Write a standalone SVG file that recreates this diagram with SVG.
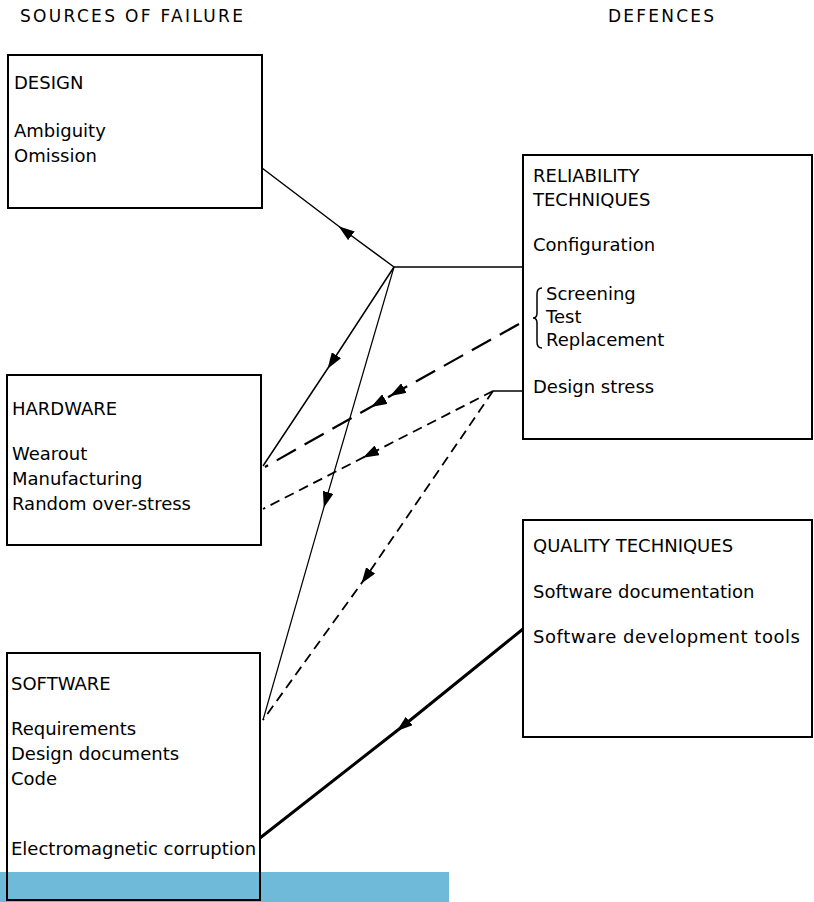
<svg xmlns="http://www.w3.org/2000/svg" width="814" height="902" viewBox="0 0 814 902">
<style>
text{font-family:"DejaVu Sans","Liberation Sans",sans-serif;font-size:18px;fill:#000}
.hd{font-size:17px}
.box{fill:none;stroke:#000;stroke-width:2}
.ln{fill:none;stroke:#000;stroke-width:1.5}
.thin{fill:none;stroke:#000;stroke-width:1.2}
.thick{fill:none;stroke:#000;stroke-width:3}
.ld{fill:none;stroke:#000;stroke-width:2.2;stroke-dasharray:22 10}
.sd{fill:none;stroke:#000;stroke-width:1.8;stroke-dasharray:10 6}
</style>
<defs>
<marker id="ah" viewBox="0 0 16 11" refX="8" refY="5.5" markerWidth="16" markerHeight="11" markerUnits="userSpaceOnUse" orient="auto">
<path d="M0,0 L16,5.5 L0,11 Z" fill="#000"/>
</marker>
</defs>
<rect x="0" y="872" width="449" height="30" fill="#6fb9d9"/>
<text class="hd" x="20" y="22" textLength="223">SOURCES OF FAILURE</text>
<text class="hd" x="608" y="22" textLength="106">DEFENCES</text>
<g id="design">
<rect class="box" x="8" y="55" width="254" height="153"/>
<text x="14" y="89">DESIGN</text>
<text x="14" y="137">Ambiguity</text>
<text x="14" y="162">Omission</text>
</g>
<g id="hardware">
<rect class="box" x="7" y="375" width="254" height="170"/>
<text x="12" y="415">HARDWARE</text>
<text x="12" y="460">Wearout</text>
<text x="12" y="485">Manufacturing</text>
<text x="12" y="510">Random over-stress</text>
</g>
<g id="software">
<rect class="box" x="7" y="653" width="253" height="247"/>
<text x="11" y="690">SOFTWARE</text>
<text x="11" y="735">Requirements</text>
<text x="11" y="760">Design documents</text>
<text x="11" y="785">Code</text>
<text x="11" y="855">Electromagnetic corruption</text>
</g>
<g id="reliability">
<rect class="box" x="523" y="155" width="289" height="284"/>
<text x="533" y="182">RELIABILITY</text>
<text x="533" y="206">TECHNIQUES</text>
<text x="533" y="251">Configuration</text>
<path class="ln" d="M542,288 Q537,288 537,294 L537,313 Q537,318 533,318 Q537,318 537,323 L537,342 Q537,348 542,348"/>
<text x="546" y="300">Screening</text>
<text x="546" y="323">Test</text>
<text x="546" y="346">Replacement</text>
<text x="533" y="393">Design stress</text>
</g>
<g id="quality">
<rect class="box" x="523" y="520" width="289" height="217"/>
<text x="533" y="552">QUALITY TECHNIQUES</text>
<text x="533" y="598">Software documentation</text>
<text x="533" y="643" textLength="267">Software development tools</text>
</g>
<g id="connectors">
<path class="ln" d="M523,267 L394,267"/>
<path class="ln" d="M394,267 L345,231 L262,168" marker-mid="url(#ah)"/>
<path class="ln" d="M394,267 L332,362 L263,466" marker-mid="url(#ah)"/>
<path class="thin" d="M394,267 L326,500 L263,720" marker-mid="url(#ah)"/>
<path class="ld" d="M519,324 L397,392 L378,403 L265,467" marker-mid="url(#ah)"/>
<path class="ln" d="M523,391 L493,391"/>
<path class="sd" d="M493,391 L370,454 L263,509" marker-mid="url(#ah)"/>
<path class="sd" d="M493,391 L366,577 L263,720" marker-mid="url(#ah)"/>
<path class="thick" d="M523,629 L403,726 L260,838" marker-mid="url(#ah)"/>
</g>
</svg>
